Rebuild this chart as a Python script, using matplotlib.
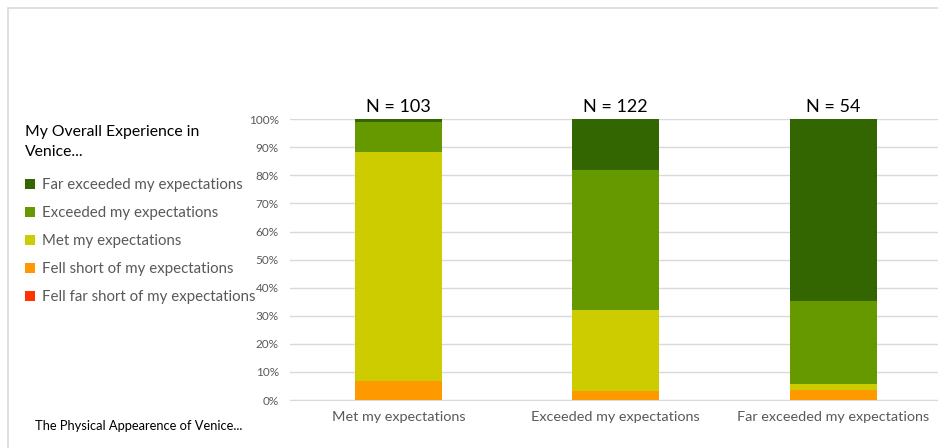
import numpy as np
import matplotlib
matplotlib.use("Agg")
import matplotlib.pyplot as plt
from matplotlib.patches import Rectangle
from matplotlib.ticker import PercentFormatter

plt.rcParams['font.family'] = ['Lato', 'DejaVu Sans']

# Overall experience vs. rating of the physical appearance of Venice
categories = ["Met my expectations", "Exceeded my expectations", "Far exceeded my expectations"]
n_counts = [103, 122, 54]

# percentage shares per response, bottom to top
fell_far_short = [0.0, 0.0, 0.0]
fell_short = [6.8, 3.3, 3.7]
met = [81.6, 28.7, 1.9]
exceeded = [10.7, 50.0, 29.6]
far_exceeded = [0.9, 18.0, 64.8]

series = [
    ("Fell far short of my expectations", fell_far_short, "#ff3300"),
    ("Fell short of my expectations", fell_short, "#ff9900"),
    ("Met my expectations", met, "#cccc00"),
    ("Exceeded my expectations", exceeded, "#669900"),
    ("Far exceeded my expectations", far_exceeded, "#336600"),
]

fig = plt.figure(figsize=(9.38, 4.48), dpi=100)
ax = fig.add_axes([0.309, 0.107, 0.695, 0.627])

x = np.arange(len(categories))
bottom = np.zeros(len(categories))
handles = []
for label, vals, color in series:
    bars = ax.bar(x, vals, width=0.40, bottom=bottom, color=color, label=label, zorder=3)
    handles.append(bars)
    bottom += np.array(vals)

for xi, n in zip(x, n_counts):
    ax.annotate(f"N = {n}", (xi, 100), xytext=(0, 3), textcoords="offset points",
                ha="center", va="bottom", fontsize=13, color="black")

ax.set_xlim(-0.5, 2.5)
ax.set_ylim(0, 100)
ax.set_yticks(np.arange(0, 101, 10))
ax.yaxis.set_major_formatter(PercentFormatter(decimals=0))
ax.set_xticks(x)
ax.set_xticklabels(categories)
ax.tick_params(axis="y", length=0, labelsize=8.5, labelcolor="#595959", pad=8)
ax.tick_params(axis="x", length=0, labelsize=10.4, labelcolor="#595959", pad=8)
ax.grid(axis="y", color="#d9d9d9", linewidth=1, zorder=0)
for side in ["top", "right", "left"]:
    ax.spines[side].set_visible(False)
ax.spines["bottom"].set_color("#d9d9d9")

leg = fig.legend(handles=handles[::-1], loc="upper left", bbox_to_anchor=(0.027, 0.72),
                 frameon=False, fontsize=10.8, labelcolor="#595959",
                 title="My Overall Experience in\nVenice...", title_fontsize=11.3,
                 alignment="left", handlelength=0.65, handleheight=0.65,
                 handletextpad=0.45, labelspacing=0.93, borderaxespad=0, borderpad=0)
leg.get_title().set_linespacing(1.5)
leg._legend_box.sep = 14

fig.text(0.037, 0.04, "The Physical Appearence of Venice...", fontsize=9.3, color="black")

fig.patches.append(Rectangle((8 / 938, -0.1), 1.2, (440 / 448) + 0.1, transform=fig.transFigure,
                             fill=False, edgecolor="#d9d9d9", linewidth=1.2))

fig.savefig("out.png", dpi=100)
